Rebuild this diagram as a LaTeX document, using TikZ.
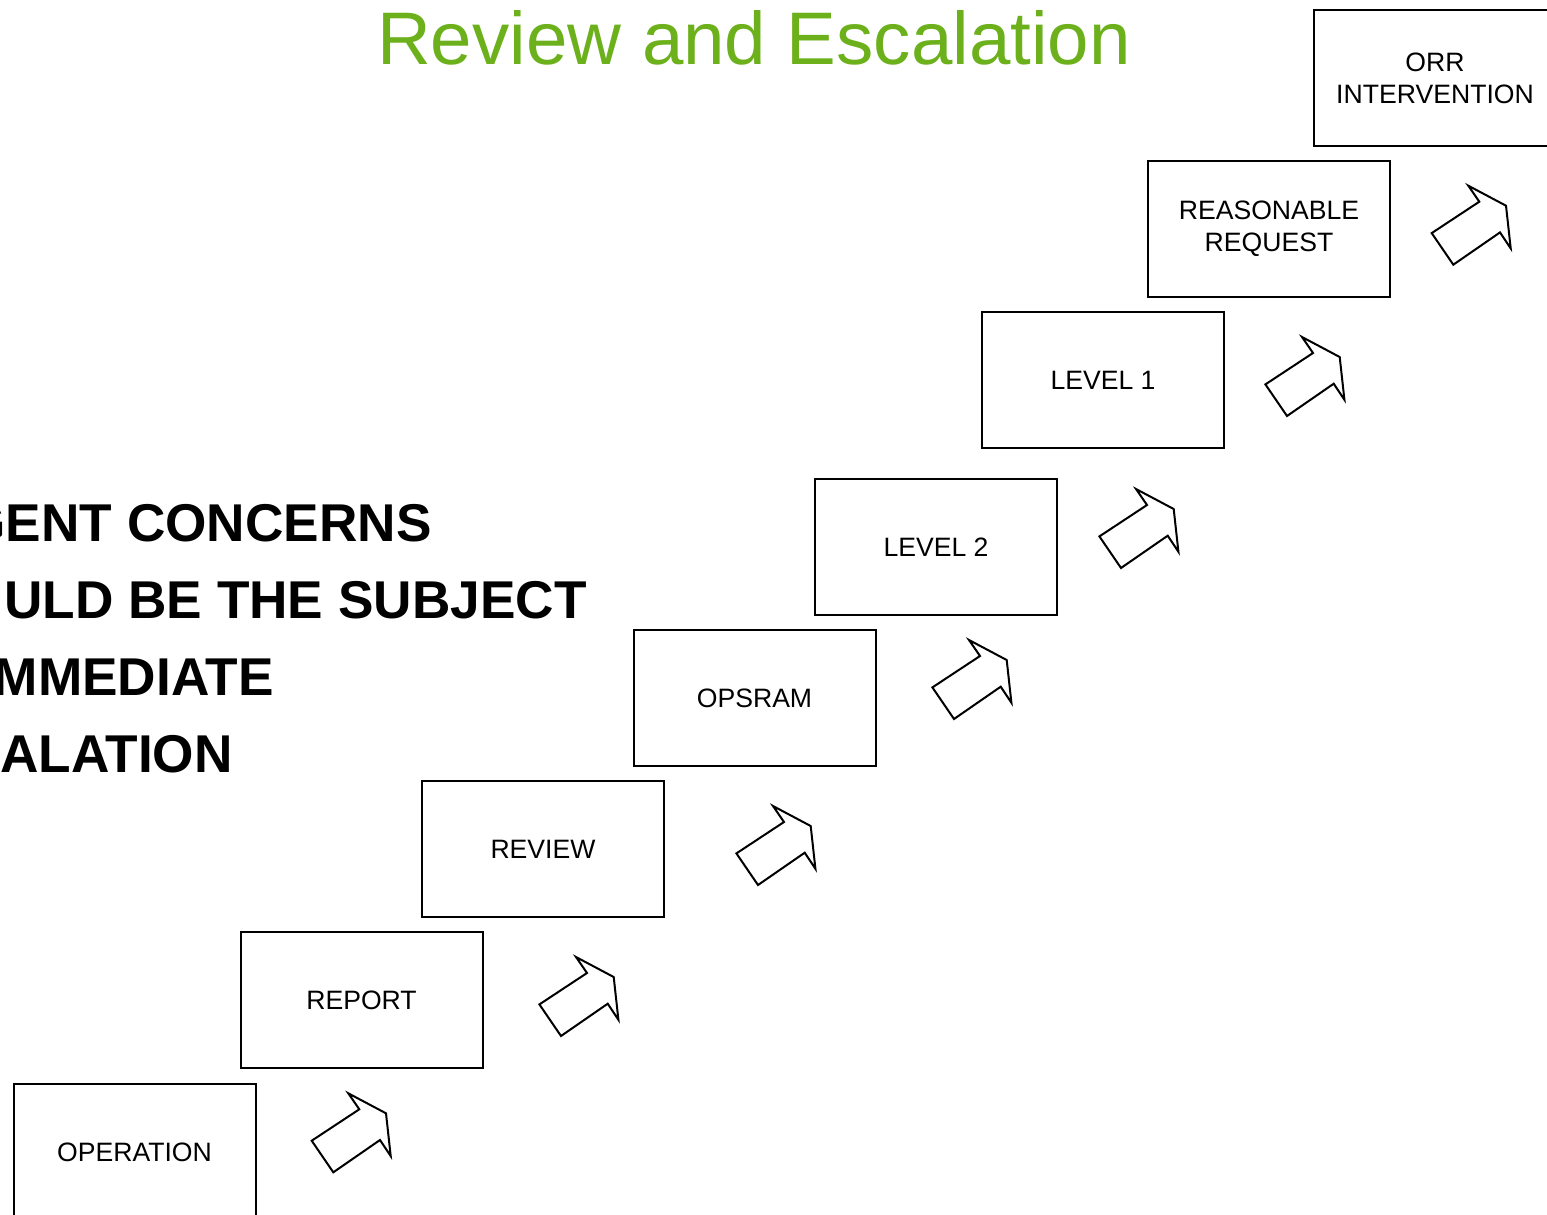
\documentclass[tikz,border=0pt]{standalone}
\usepackage{fontspec}
\setmainfont{Liberation Sans}
\definecolor{titlegreen}{RGB}{108,176,28}
\begin{document}
\begin{tikzpicture}[x=0.5pt,y=-0.5pt,
  stagebox/.style={draw=black,line width=1pt,minimum width=121pt,minimum height=68pt,
    inner sep=0pt,align=center,font=\fontsize{13.3pt}{16pt}\selectfont},
  stagearrow/.style={draw=black,line width=1pt,fill=white,line join=miter},
  bigtext/.style={anchor=base east,inner sep=0pt,font=\fontsize{26.6pt}{30pt}\selectfont\bfseries}]
\useasboundingbox (0,0) rectangle (1547,1215);
\clip (0,0) rectangle (1547,1215);
\node[text=titlegreen,font=\fontsize{37.25pt}{40pt}\selectfont,anchor=base,inner sep=0pt] (title) at (754,64.5) {Review and Escalation};
\node[stagebox] (op) at (134.5,1152) {OPERATION};
\node[stagebox] (rep) at (361.5,1000) {REPORT};
\node[stagebox] (rev) at (543,849) {REVIEW};
\node[stagebox] (ops) at (754.5,698) {OPSRAM};
\node[stagebox] (l2) at (936,547) {LEVEL 2};
\node[stagebox] (l1) at (1103,380) {LEVEL 1};
\node[stagebox] (rr) at (1269,229) {REASONABLE\\REQUEST};
\node[stagebox] (orr) at (1435,78) {ORR\\INTERVENTION};
\node[bigtext] (t1) at (432,541.5) {GENT CONCERNS};
\node[bigtext] (t2) at (587,618.5) {ULD BE THE SUBJECT};
\node[bigtext] (t3) at (274,695.5) {MMEDIATE};
\node[bigtext] (t4) at (233,772.5) {ALATION};
\foreach \tx/\ty in {348.3/1093.3, 576/957, 773/806, 969/640, 1136/489, 1302/337, 1468.3/185.7}{
  \draw[stagearrow] (\tx,\ty) -- ++(37.7,20) -- ++(4.7,42.7) -- ++(-10.7,-16) -- ++(-46.7,32.3)
    -- ++(-21.6,-31.6) -- ++(47.6,-31.4) -- cycle;
}
\end{tikzpicture}
\end{document}
